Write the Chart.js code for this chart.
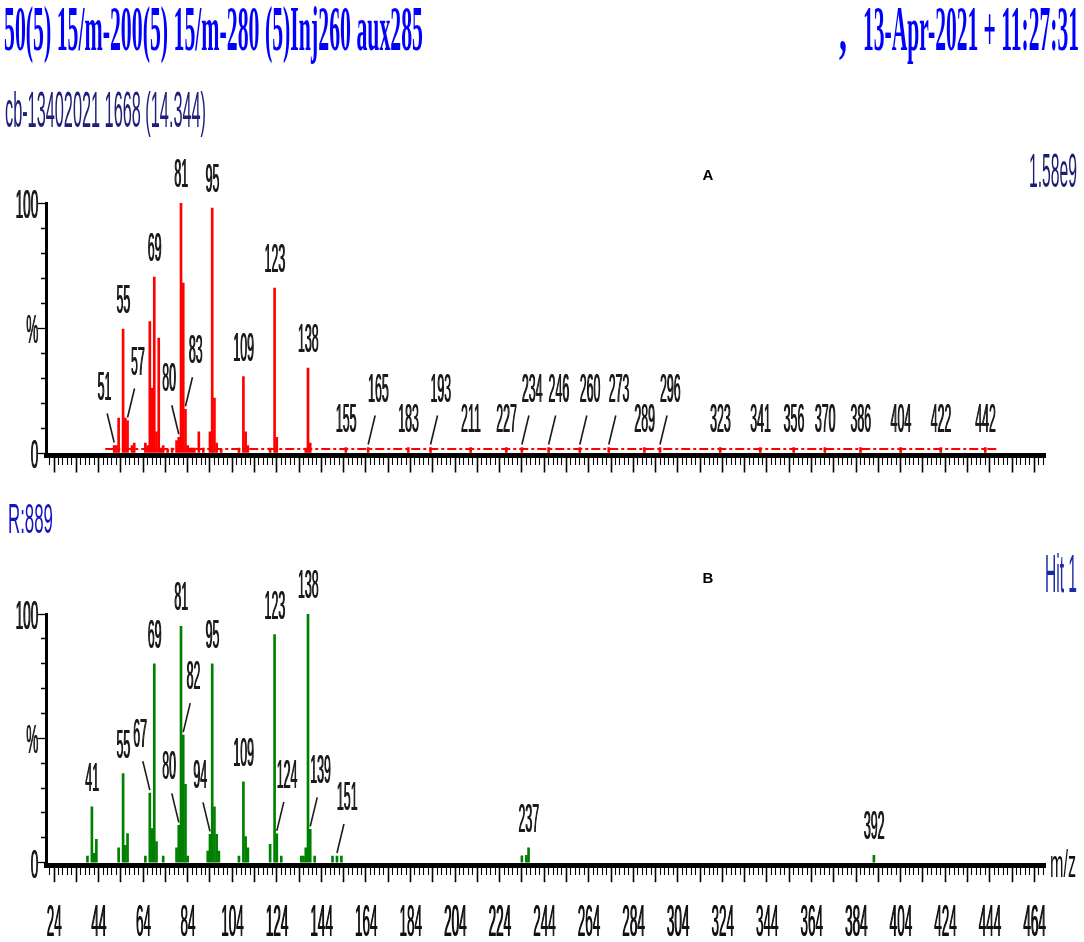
<!DOCTYPE html>
<html>
<head>
<meta charset="utf-8">
<title>Mass spectra A / B</title>
<script src="https://cdn.jsdelivr.net/npm/chart.js@4.4.1/dist/chart.umd.min.js"></script>
<style>
  html, body { margin: 0; padding: 0; background: #fff; }
  #wrap { position: relative; width: 1084px; height: 942px; overflow: hidden; }
  canvas { position: absolute; left: 0; top: 0; }
</style>
</head>
<body>
<div id="wrap">
  <canvas id="specA" width="1084" height="942"></canvas>
  <canvas id="specB" width="1084" height="942"></canvas>
</div>
<script>
// spectrum A (sample scan, red) - m/z and relative abundance %
const mzA = [51, 52, 53, 55, 56, 57, 59, 60,
  65, 66, 67, 68, 69, 70, 71, 72, 73,
  75, 77, 79, 80, 81, 82, 83, 84, 85, 86, 87,
  89, 91, 94, 95, 96, 97, 99,
  107, 109, 110, 111,
  121, 123, 124,
  137, 138, 139,
  155, 165, 183, 193, 211, 227, 234, 246, 260, 273,
  289, 296, 323, 341, 356, 370, 386, 404, 422, 442];
const relA = [3, 3, 14, 49.6, 14, 13, 3, 4,
  4, 3, 52.6, 26, 70.4, 8.5, 46, 2, 3,
  1.5, 2, 5, 6.3, 100, 68, 17.5, 3, 2, 2, 2,
  8.5, 2, 8.5, 98, 22, 4, 1.5,
  2, 30.6, 8.5, 3,
  2, 66, 6.3,
  2, 34, 4,
  2.2, 2.2, 2.2, 2.2, 2.2, 2.2, 2.2, 2.2, 2.2, 2.2,
  2.2, 2.2, 2.2, 2.2, 2.2, 2.2, 2.2, 2.2, 2.2, 2.2];
// baseline noise of scan A
const noiseMz = [47, 448];
const noiseRel = [1.6, 1.6];
const peakLabelsA = [51, 55, 57, 69, 80, 81, 83, 95, 109, 123, 138,
  155, 165, 183, 193, 211, 227, 234, 246, 260, 273, 289, 296,
  323, 341, 356, 370, 386, 404, 422, 442];

// spectrum B (library hit, green)
const mzB = [39, 41, 42, 43, 53, 55, 56, 57,
  65, 67, 68, 69, 70, 73,
  79, 80, 81, 82, 83, 84,
  93, 94, 95, 96, 97, 98,
  107, 109, 110, 111,
  121, 123, 124, 126,
  135, 136, 137, 138, 139, 141,
  149, 151, 153,
  234, 236, 237, 392];
const relB = [2.7, 22.5, 3.8, 9.4, 6, 35.8, 7, 11.7,
  2.7, 28, 13.7, 80, 8.5, 2.7,
  6, 15, 95, 51.3, 31.5, 2.7,
  4.7, 11.4, 80, 22.5, 11.4, 4.7,
  2.7, 32.5, 10.5, 6,
  7.4, 91.7, 11.6, 2.7,
  2.7, 2.7, 6, 100, 13.4, 2.7,
  2.7, 2.7, 2.7,
  2.8, 3, 6, 3];
const peakLabelsB = [41, 55, 67, 69, 80, 81, 82, 94, 95, 109, 123, 124, 138, 139, 151, 237, 392];

// axis labels
const mzTickLabels = [24, 44, 64, 84, 104, 124, 144, 164, 184, 204, 224, 244,
  264, 284, 304, 324, 344, 364, 384, 404, 424, 444, 464];
const yTickVals = [0, 50, 100];
const yTickText = ['0', '%', '100'];

// labels lifted with a leader line (-1 = label on the left, 1 = on the right)
const leadA = {51: -1, 57: 1, 80: -1, 83: 1, 165: 1, 193: 1, 234: 1, 246: 1, 260: 1, 273: 1, 296: 1};
const leadB = {67: -1, 80: -1, 82: 1, 94: -1, 124: 1, 139: 1, 151: 1};

const SANS = '"Liberation Sans", Arial, sans-serif';
const SERIF = '"Liberation Serif", "Times New Roman", serif';

// narrow text: the original plot is stretched vertically
// heavy = draw twice, half a pixel apart, so the thin strokes get some body
function squeezed(ctx, txt, x, y, size, sx, color, align, weight, family, heavy) {
  ctx.save();
  ctx.font = (weight || 'normal') + ' ' + size + 'px ' + (family || SANS);
  ctx.fillStyle = color;
  ctx.textAlign = align || 'center';
  ctx.textBaseline = 'alphabetic';
  ctx.translate(x, y);
  ctx.scale(sx, 1);
  ctx.fillText(txt, 0, 0);
  if (heavy) ctx.fillText(txt, 0.6 / sx, 0);
  ctx.restore();
}

// text squeezed to fill a given width, starting at x
function fitted(ctx, txt, x, y, width, size, color, weight, family) {
  ctx.save();
  ctx.font = (weight || 'normal') + ' ' + size + 'px ' + (family || SANS);
  const w = ctx.measureText(txt).width;
  ctx.fillStyle = color;
  ctx.textAlign = 'left';
  ctx.textBaseline = 'alphabetic';
  ctx.translate(x, y);
  ctx.scale(width / w, 1);
  ctx.fillText(txt, 0, 0);
  ctx.restore();
}

function drawPeakLabels(chart, mz, labels, lead) {
  const ctx = chart.ctx;
  const bars = chart.getDatasetMeta(0).data;
  labels.forEach(m => {
    const i = mz.indexOf(m);
    if (i < 0) return;
    const bar = bars[i];
    const side = lead[m] || 0;
    if (side) {
      const base = bar.y - 46;
      squeezed(ctx, String(m), bar.x + side * 10, base, 40, 0.31, '#1a1a1a', 'center', null, null, true);
      ctx.save();
      ctx.strokeStyle = '#1a1a1a';
      ctx.lineWidth = 1.6;
      ctx.beginPath();
      ctx.moveTo(bar.x + side * 7, base + 14);
      ctx.lineTo(bar.x, bar.y - 3);
      ctx.stroke();
      ctx.restore();
    } else {
      squeezed(ctx, String(m), bar.x, bar.y - 16, 40, 0.31, '#1a1a1a', 'center', null, null, true);
    }
  });
}

function drawYLabels(chart) {
  const y = chart.scales.y;
  yTickVals.forEach((v, i) => {
    squeezed(chart.ctx, yTickText[i], 38, y.getPixelForValue(v) + 15, 40, 0.34, '#1a1a1a', 'right', null, null, true);
  });
}

const isMajor = c => c.tick && Math.abs((((c.tick.value - 24) % 10) + 10) % 10) < 0.01;

function scalesCfg() {
  return {
    x: {
      type: 'linear', min: 20.4, max: 468.8, offset: false,
      ticks: { display: false, stepSize: 2, includeBounds: false },
      grid: {
        display: true, drawOnChartArea: false, drawTicks: true, offset: false,
        tickLength: 17, color: '#000', tickColor: '#000',
        tickWidth: c => isMajor(c) ? 1.6 : 1.1,
        tickBorderDash: c => isMajor(c) ? [] : [7, 40]
      },
      border: { display: true, color: '#000', width: 5 },
      afterFit: s => { s.height = 20; }
    },
    y: {
      type: 'linear', min: -1, max: 100,
      ticks: { display: false, stepSize: 10, includeBounds: false },
      grid: {
        display: true, drawOnChartArea: false, tickLength: 8, color: '#000', tickColor: '#000',
        tickWidth: 1.3,
        tickBorderDash: c => (c.tick && c.tick.value % 50 === 0) ? [] : [0, 3, 4, 20]
      },
      border: { display: true, color: '#000', width: 3 },
      afterFit: s => { s.width = 46; }
    }
  };
}

const textA = {
  id: 'textA',
  afterDraw(chart) {
    const ctx = chart.ctx;
    fitted(ctx, '50(5) 15/m-200(5) 15/m-280 (5)Inj260 aux285', 4, 50, 419, 64, '#0000ff', 'bold', SERIF);
    squeezed(ctx, ',', 843, 50, 64, 0.5, '#0000ff', 'center', 'bold', SERIF);
    fitted(ctx, '13-Apr-2021 + 11:27:31', 863, 50, 216, 64, '#0000ff', 'bold', SERIF);
    fitted(ctx, 'cb-13402021 1668 (14.344)', 5, 127, 201, 50, '#202078');
    fitted(ctx, '1.58e9', 1029, 187, 48, 48, '#1c1c70');
    ctx.save();
    ctx.font = 'bold 15px ' + SANS;
    ctx.fillStyle = '#000';
    ctx.textAlign = 'center';
    ctx.textBaseline = 'middle';
    ctx.fillText('A', 708, 176);
    ctx.restore();
    drawYLabels(chart);
    drawPeakLabels(chart, mzA, peakLabelsA, leadA);
  }
};

const textB = {
  id: 'textB',
  afterDraw(chart) {
    const ctx = chart.ctx;
    fitted(ctx, 'R:889', 8, 533, 45, 42, '#1515c0');
    fitted(ctx, 'Hit 1', 1045, 592, 32, 53, '#1a2aa8');
    ctx.save();
    ctx.font = 'bold 15px ' + SANS;
    ctx.fillStyle = '#000';
    ctx.textAlign = 'center';
    ctx.textBaseline = 'middle';
    ctx.fillText('B', 708, 579);
    ctx.restore();
    const x = chart.scales.x;
    mzTickLabels.forEach(v => {
      squeezed(ctx, String(v), x.getPixelForValue(v), 936, 45, 0.3, '#111', 'center', null, null, true);
    });
    fitted(ctx, 'm/z', 1050, 877, 26, 38, '#111');
    drawYLabels(chart);
    drawPeakLabels(chart, mzB, peakLabelsB, leadB);
  }
};

const common = {
  responsive: false,
  animation: false,
  devicePixelRatio: 1,
  events: [],
  plugins: { legend: { display: false }, tooltip: { enabled: false } }
};

new Chart(document.getElementById('specA'), {
  type: 'bar',
  data: {
    datasets: [
      {
        label: 'A',
        data: mzA.map((m, i) => ({ x: m, y: relA[i] })),
        backgroundColor: '#ff0000',
        borderWidth: 0,
        barThickness: 2
      },
      {
        type: 'line',
        label: 'noise',
        data: noiseMz.map((m, i) => ({ x: m, y: noiseRel[i] })),
        borderColor: '#ff0000',
        borderWidth: 2,
        borderDash: [9, 3, 3, 3],
        pointRadius: 0,
        fill: false
      }
    ]
  },
  options: Object.assign({}, common, {
    layout: { padding: { top: 203, bottom: 466.5, left: 0, right: 39 } },
    scales: scalesCfg()
  }),
  plugins: [textA]
});

new Chart(document.getElementById('specB'), {
  type: 'bar',
  data: {
    datasets: [{
      label: 'B',
      data: mzB.map((m, i) => ({ x: m, y: relB[i] })),
      backgroundColor: '#008000',
      borderWidth: 0,
      barThickness: 2
    }]
  },
  options: Object.assign({}, common, {
    layout: { padding: { top: 614, bottom: 56.8, left: 0, right: 39 } },
    scales: scalesCfg()
  }),
  plugins: [textB]
});
</script>
</body>
</html>
